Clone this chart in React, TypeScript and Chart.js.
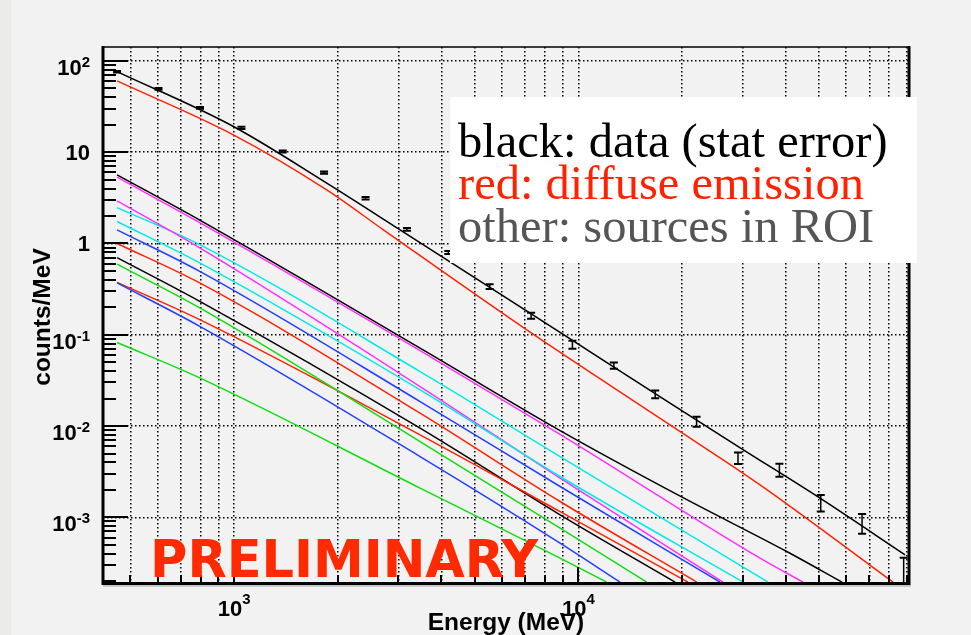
import React, { useEffect, useRef } from "react";
import { Chart, registerables } from "chart.js";

Chart.register(...registerables);

// ---------------- data ----------------
const energies = [457, 603, 796, 1050, 1384, 1825, 2409, 3177, 4190, 5525, 7290, 9610, 12680, 16720, 22050, 29090, 38370, 50600, 66700, 88100];
const counts = [76, 49.4, 30.6, 18.5, 10.2, 5.98, 3.13, 1.43, 0.795, 0.337, 0.161, 0.0775, 0.0456, 0.0226, 0.0111, 0.00445, 0.00327, 0.00143, 0.00085, 0.000266];
const countsLow = [74.5, 48.3, 29.9, 18.0, 9.95, 5.8, 3.03, 1.38, 0.765, 0.318, 0.15, 0.0701, 0.0423, 0.0202, 0.0098, 0.00383, 0.00278, 0.00116, 0.00066, 0.00001];
const countsHigh = [77.5, 50.5, 31.3, 19.0, 10.45, 6.15, 3.23, 1.48, 0.826, 0.357, 0.174, 0.0857, 0.0496, 0.0245, 0.0126, 0.00513, 0.00386, 0.00176, 0.00109, 0.00036];

const totalModelE = [457, 995, 1858, 3034, 8848, 18460, 30150, 50350, 88900];
const totalModelY = [76.3, 19.1, 4.58, 1.41, 0.106, 0.01782, 0.00549, 0.00162, 0.000388];

const diffuseE = [457, 995, 1858, 2714, 7080, 18460, 33710, 82040];
const diffuseY = [60.4, 15.5, 3.86, 1.41, 0.1132, 0.0103, 0.00227, 0.000195];

const srcBlackAE = [457, 797, 3469, 8848, 20140, 40300, 58330];
const srcBlackAY = [5.64, 1.79, 0.0713, 0.0089, 0.00164, 0.000422, 0.000195];
const srcMagentaAE = [457, 797, 3469, 8848, 33710, 44940];
const srcMagentaAY = [5.32, 1.68, 0.0671, 0.00811, 0.000357, 0.000195];
const srcMagentaBE = [457, 797, 3469, 8848, 26320];
const srcMagentaBY = [2.93, 0.888, 0.0271, 0.00269, 0.000195];
const srcCyanAE = [457, 797, 3469, 8848, 35560];
const srcCyanAY = [2.47, 0.965, 0.0395, 0.00463, 0.000195];
const srcCyanBE = [457, 797, 3469, 8848, 30090];
const srcCyanBY = [1.74, 0.608, 0.0249, 0.0028, 0.000195];
const srcBlueAE = [457, 797, 3469, 8848, 25800];
const srcBlueAY = [1.41, 0.492, 0.01855, 0.002175, 0.000195];
const srcRedAE = [457, 797, 3469, 8848, 22080];
const srcRedAY = [1.0, 0.367, 0.01384, 0.00149, 0.000195];
const srcBlackBE = [457, 797, 3469, 8848, 19100];
const srcBlackBY = [0.7, 0.231, 0.00948, 0.001065, 0.000195];
const srcRedBE = [457, 797, 3469, 8848, 20830];
const srcRedBY = [0.375, 0.1456, 0.00801, 0.001154, 0.000195];
const srcGreenAE = [457, 797, 3469, 8848, 15800];
const srcGreenAY = [0.593, 0.1956, 0.00676, 0.000762, 0.000195];
const srcBlueBE = [457, 797, 3469, 8848, 13220];
const srcBlueBY = [0.37, 0.123, 0.00463, 0.000522, 0.000195];
const srcGreenBE = [457, 797, 3469, 8848, 12090];
const srcGreenBY = [0.0822, 0.0335, 0.00209, 0.000357, 0.000195];

const xTickValues = [1000, 10000];
const xTickLabels = ["10^3", "10^4"];
const yTickValues = [100, 10, 1, 0.1, 0.01, 0.001];
const yTickLabels = ["10^2", "10", "1", "10^-1", "10^-2", "10^-3"];
const xTitle = "Energy (MeV)";
const yTitle = "counts/MeV";
const noteLines = ["black: data (stat error)", "red: diffuse emission", "other: sources in ROI"];
const stampText = "PRELIMINARY";

const xMin = 416;
const xMax = 91300;
const yMin = 1.956e-4;
const yMax = 142;

// ---------------- styles ----------------
const COL = {
  black: "#000000",
  red: "#ff2200",
  magenta: "#ff30ff",
  cyan: "#00eaea",
  blue: "#2040ff",
  green: "#10dd10",
};
const noteColors = ["#000000", "#ff2200", "#555555"];
const SANS = '"Liberation Sans", Arial, Helvetica, sans-serif';
const BASE_FONT = `bold 22px ${SANS}`;
const SUP_FONT = `bold 15px ${SANS}`;
const TITLE_FONT = `bold 24.5px ${SANS}`;
const NOTE_FONT = '48.5px "Liberation Serif", "Times New Roman", serif';
const STAMP_FONT = 'bold 51px "DejaVu Sans", Verdana, sans-serif';

function isMajor(v: number) {
  const l = Math.log10(v);
  return Math.abs(l - Math.round(l)) < 1e-9;
}

function logTicks(min: number, max: number) {
  const out: { value: number }[] = [];
  const e0 = Math.floor(Math.log10(min));
  const e1 = Math.ceil(Math.log10(max));
  for (let e = e0; e <= e1; e++) {
    for (let m = 1; m <= 9; m++) {
      const v = parseFloat((m * Math.pow(10, e)).toPrecision(12));
      if (v >= min && v <= max) out.push({ value: v });
    }
  }
  return out;
}

function line(label: string, xs: number[], ys: number[], color: string, width = 1.5) {
  return {
    label,
    data: xs.map((x, i) => ({ x, y: ys[i] })),
    showLine: true,
    borderColor: color,
    backgroundColor: color,
    borderWidth: width,
    pointRadius: 0,
    fill: false,
    cubicInterpolationMode: "monotone",
  };
}

function drawPowLabel(ctx: CanvasRenderingContext2D, label: string, x: number, baseY: number, supY: number, align: "right" | "center") {
  const [base, exp] = label.split("^");
  ctx.font = BASE_FONT;
  const bw = ctx.measureText(base).width;
  let ew = 0;
  if (exp) {
    ctx.font = SUP_FONT;
    ew = ctx.measureText(exp).width;
  }
  const total = bw + ew;
  const start = align === "right" ? x - total : x - total / 2;
  ctx.textAlign = "left";
  ctx.textBaseline = "alphabetic";
  ctx.font = BASE_FONT;
  ctx.fillText(base, start, baseY);
  if (exp) {
    ctx.font = SUP_FONT;
    ctx.fillText(exp, start + bw, supY);
  }
}

const rootPlugin = {
  id: "rootStyle",
  beforeDraw(chart: any) {
    const ctx = chart.ctx as CanvasRenderingContext2D;
    ctx.save();
    ctx.fillStyle = "#f2f2f2";
    ctx.fillRect(0, 0, chart.width, chart.height);
    ctx.fillStyle = "#ebebe9";
    ctx.fillRect(0, 0, 11, chart.height);
    ctx.restore();
  },
  afterDatasetsDraw(chart: any) {
    const ctx = chart.ctx as CanvasRenderingContext2D;
    const xs = chart.scales.x;
    const ys = chart.scales.y;
    const a = chart.chartArea;
    ctx.save();
    ctx.beginPath();
    ctx.rect(a.left, a.top, a.right - a.left, a.bottom - a.top);
    ctx.clip();
    ctx.strokeStyle = "#000";
    for (let i = 0; i < energies.length; i++) {
      const px = xs.getPixelForValue(energies[i]);
      const yl = ys.getPixelForValue(countsLow[i]);
      const yh = ys.getPixelForValue(countsHigh[i]);
      ctx.lineWidth = 1.5;
      ctx.beginPath();
      ctx.moveTo(px, yl);
      ctx.lineTo(px, yh);
      ctx.stroke();
      ctx.lineWidth = 2;
      ctx.beginPath();
      ctx.moveTo(px - 4, yl);
      ctx.lineTo(px + 4, yl);
      ctx.moveTo(px - 4, yh);
      ctx.lineTo(px + 4, yh);
      ctx.stroke();
    }
    ctx.restore();
  },
  afterDraw(chart: any) {
    const ctx = chart.ctx as CanvasRenderingContext2D;
    const xs = chart.scales.x;
    const ys = chart.scales.y;
    const a = chart.chartArea;
    ctx.save();
    ctx.strokeStyle = "#000";
    ctx.lineCap = "butt";

    // tick marks (inside)
    ctx.lineWidth = 2;
    ys.ticks.forEach((t: any) => {
      const py = Math.round(ys.getPixelForValue(t.value));
      const len = isMajor(t.value) ? 25 : 13;
      ctx.beginPath();
      ctx.moveTo(a.left, py);
      ctx.lineTo(a.left + len, py);
      ctx.stroke();
    });
    xs.ticks.forEach((t: any) => {
      const px = Math.round(xs.getPixelForValue(t.value));
      const len = isMajor(t.value) ? 15 : 7;
      ctx.beginPath();
      ctx.moveTo(px, a.bottom);
      ctx.lineTo(px, a.bottom - len);
      ctx.stroke();
    });

    // frame
    ctx.lineWidth = 1.6;
    ctx.beginPath();
    ctx.moveTo(a.left, a.top);
    ctx.lineTo(a.right, a.top);
    ctx.stroke();
    ctx.lineWidth = 3;
    ctx.beginPath();
    ctx.moveTo(a.left, a.top - 1);
    ctx.lineTo(a.left, a.bottom + 1.5);
    ctx.lineTo(a.right + 1.5, a.bottom + 1.5);
    ctx.moveTo(a.right, a.top - 1);
    ctx.lineTo(a.right, a.bottom + 1.5);
    ctx.stroke();
    ctx.strokeStyle = "#c8c8c8";
    ctx.lineWidth = 2;
    ctx.beginPath();
    ctx.moveTo(a.left, a.bottom + 4);
    ctx.lineTo(a.right + 2, a.bottom + 4);
    ctx.stroke();

    // tick labels
    ctx.fillStyle = "#000";
    yTickValues.forEach((v, i) => {
      const py = ys.getPixelForValue(v);
      const hasExp = yTickLabels[i].includes("^");
      drawPowLabel(ctx, yTickLabels[i], 90, py + (hasExp ? 14 : 8), py + 6, "right");
    });
    xTickValues.forEach((v, i) => {
      const px = xs.getPixelForValue(v);
      drawPowLabel(ctx, xTickLabels[i], px, a.bottom + 34, a.bottom + 22, "center");
    });

    // axis titles
    ctx.font = TITLE_FONT;
    ctx.textAlign = "center";
    ctx.textBaseline = "alphabetic";
    ctx.fillText(xTitle, 506, 630);
    ctx.save();
    ctx.translate(50, 317);
    ctx.rotate(-Math.PI / 2);
    ctx.fillText(yTitle, 0, 0);
    ctx.restore();

    // note box
    ctx.fillStyle = "#ffffff";
    ctx.fillRect(450, 97, 467, 166);
    ctx.font = NOTE_FONT;
    ctx.textAlign = "left";
    const baselines = [156.7, 199.3, 241.7];
    noteLines.forEach((s, i) => {
      ctx.fillStyle = noteColors[i];
      ctx.fillText(s, 458, baselines[i]);
    });

    // stamp
    ctx.font = STAMP_FONT;
    ctx.fillStyle = "#ff2a00";
    ctx.fillText(stampText, 150, 577);
    ctx.restore();
  },
};

export default function App() {
  const ref = useRef<HTMLCanvasElement>(null);
  useEffect(() => {
    const canvas = ref.current;
    if (!canvas) return;
    const datasets: any[] = [
      line("green B", srcGreenBE, srcGreenBY, COL.green),
      line("blue B", srcBlueBE, srcBlueBY, COL.blue),
      line("green A", srcGreenAE, srcGreenAY, COL.green),
      line("red B", srcRedBE, srcRedBY, COL.red),
      line("black B", srcBlackBE, srcBlackBY, COL.black),
      line("red A", srcRedAE, srcRedAY, COL.red),
      line("blue A", srcBlueAE, srcBlueAY, COL.blue),
      line("cyan B", srcCyanBE, srcCyanBY, COL.cyan),
      line("magenta B", srcMagentaBE, srcMagentaBY, COL.magenta),
      line("cyan A", srcCyanAE, srcCyanAY, COL.cyan),
      line("magenta A", srcMagentaAE, srcMagentaAY, COL.magenta),
      line("black A", srcBlackAE, srcBlackAY, COL.black),
      line("diffuse", diffuseE, diffuseY, COL.red),
      line("total", totalModelE, totalModelY, COL.black, 1.6),
      {
        label: "data",
        data: energies.map((x, i) => ({ x, y: counts[i] })),
        showLine: false,
        pointRadius: 0,
        borderColor: "#000",
      },
    ];
    const chart = new Chart(canvas, {
      type: "scatter",
      data: { datasets },
      options: {
        responsive: false,
        maintainAspectRatio: false,
        animation: false,
        events: [],
        layout: { padding: { left: 103, top: 47, right: 62, bottom: 53 } },
        plugins: { legend: { display: false }, tooltip: { enabled: false } },
        scales: {
          x: {
            type: "logarithmic",
            min: xMin,
            max: xMax,
            afterBuildTicks: (s: any) => {
              s.ticks = logTicks(s.min, s.max);
            },
            afterFit: (s: any) => {
              s.height = 0;
            },
            ticks: { display: false },
            grid: { color: "#000", lineWidth: 1.5, drawTicks: false },
            border: { display: false, dash: [1.5, 2.5] },
          },
          y: {
            type: "logarithmic",
            min: yMin,
            max: yMax,
            afterBuildTicks: (s: any) => {
              s.ticks = logTicks(s.min, s.max);
            },
            afterFit: (s: any) => {
              s.width = 0;
            },
            ticks: { display: false },
            grid: {
              color: (c: any) => (c.tick && isMajor(c.tick.value) ? "#000" : "rgba(0,0,0,0)"),
              lineWidth: 1.5,
              drawTicks: false,
            },
            border: { display: false, dash: [1.5, 2.5] },
          },
        },
      } as any,
      plugins: [rootPlugin as any],
    });
    return () => chart.destroy();
  }, []);
  return (
    <div style={{ position: "absolute", left: 0, top: 0, width: 971, height: 635, background: "#f2f2f2" }}>
      <canvas ref={ref} width={971} height={635} style={{ display: "block", width: 971, height: 635 }} />
    </div>
  );
}
